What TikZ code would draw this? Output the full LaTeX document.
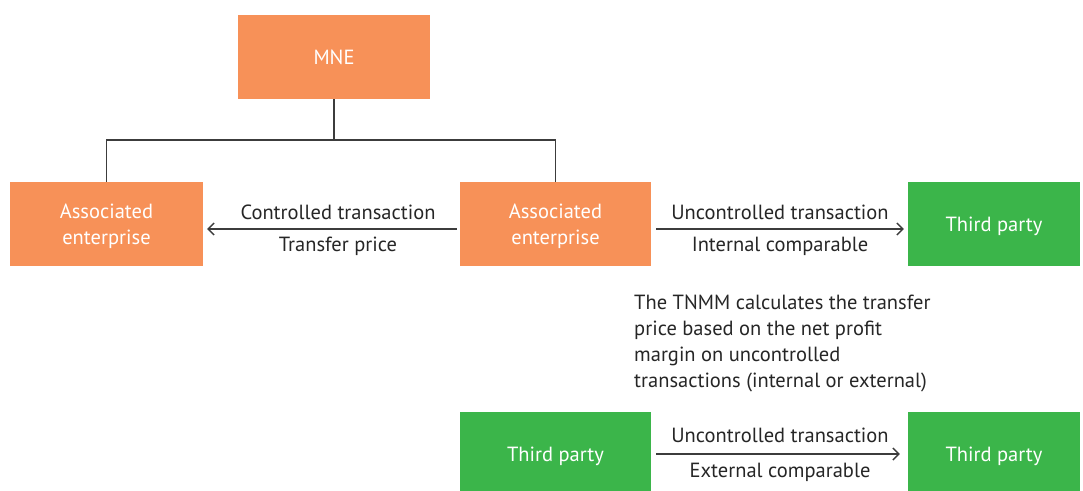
\documentclass[tikz,border=0pt]{standalone}
\usepackage{fontspec}
\setmainfont{PT Sans}
\usetikzlibrary{arrows.meta}
\definecolor{boxorange}{RGB}{247,145,88}
\definecolor{boxgreen}{RGB}{59,181,74}
\definecolor{linegray}{RGB}{60,60,60}
\begin{document}
\begin{tikzpicture}[x=1pt,y=-1pt,
  every node/.style={font=\fontsize{20.5}{26}\selectfont},
  orangebox/.style={fill=boxorange,text=white,minimum width=192pt,minimum height=84pt,inner sep=0pt,align=center,text depth=0pt},
  greenbox/.style={fill=boxgreen,text=white,minimum width=172pt,minimum height=84pt,inner sep=0pt,align=center,text depth=0pt},
  link/.style={draw=linegray,line width=1.4pt},
  flow/.style={draw=linegray,line width=1.4pt,-{Straight Barb[length=6pt,width=12pt,line width=1.4pt]}},
  lbl/.style={text=black!85,inner sep=0pt}]
\useasboundingbox (0,0) rectangle (1083,490);
\clip (0,0) rectangle (1083,490);

% enterprises and third parties
\node[orangebox] (mne) at (334,57) {MNE};
\node[orangebox,minimum width=193pt] (ael) at (106.5,224) {Associated\\enterprise};
\node[orangebox,minimum width=191pt] (aem) at (555.5,224) {Associated\\enterprise};
\node[greenbox] (tpr) at (994,224) {Third party};
\node[orangebox,fill=boxgreen,minimum width=191pt] (tpbl) at (555.5,454) {Third party};
\node[greenbox] (tpbr) at (994,454) {Third party};

% ownership tree
\coordinate (join) at (334,140);
\draw[link] (mne.south) -- (join);
\draw[link] (ael.north) |- (join) -| (aem.north);

% transactions
\draw[flow] ([xshift=-3pt,yshift=-5pt]aem.west) -- ([xshift=4pt,yshift=-5pt]ael.east);
\node[lbl] (ct) at (338,212) {Controlled transaction};
\node[lbl] (tp) at (338,246) {Transfer price};

\draw[flow] ([xshift=5pt,yshift=-5pt]aem.east) -- ([xshift=-4pt,yshift=-5pt]tpr.west);
\node[lbl] (ut1) at (780,212) {Uncontrolled transaction};
\node[lbl] (ic) at (780,246) {Internal comparable};

\draw[flow] ([xshift=5pt]tpbl.east) -- ([xshift=-8pt]tpbr.west);
\node[lbl] (ut2) at (780,435) {Uncontrolled transaction};
\node[lbl] (ec) at (780,472) {External comparable};

% note
\node[lbl,anchor=north west,align=left,font=\fontsize{20.5}{26}\selectfont] (note) at (634,295)
  {The TNMM calculates the transfer\\price based on the net profit\\margin on uncontrolled\\transactions (internal or external)};
\end{tikzpicture}
\end{document}
